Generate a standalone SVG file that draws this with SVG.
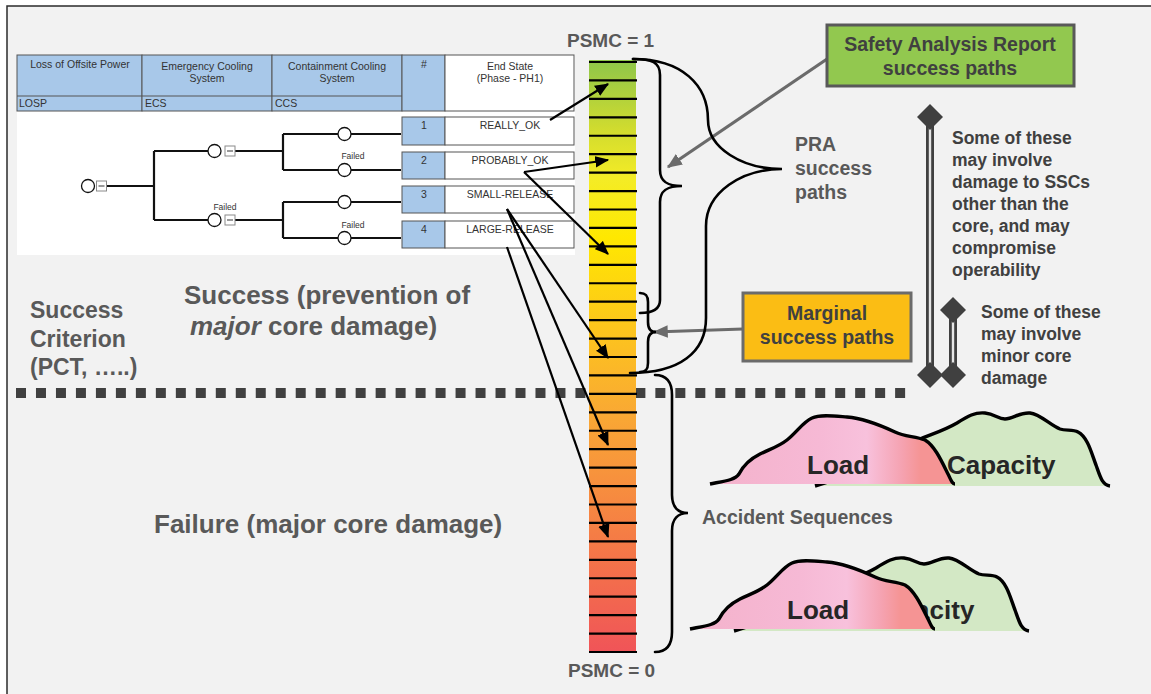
<svg xmlns="http://www.w3.org/2000/svg" width="1151" height="694" viewBox="0 0 1151 694">
  <defs>
    <style>
      .t { font-family: "Liberation Sans", Arial, sans-serif; }
      .b { font-weight: bold; }
      .lbl { fill: #595959; font-weight: bold; }
      .boxt { fill: #404040; font-weight: bold; font-size: 19.5px; text-anchor: middle; }
      .tbl { fill: #333333; font-size: 10.5px; }
      .mid { text-anchor: middle; }
      .cellb { fill: #a8c8e9; stroke: #555555; stroke-width: 1; }
      .cellw { fill: #ffffff; stroke: #555555; stroke-width: 1; }
      .tree { fill: none; stroke: #111111; stroke-width: 2.2; }
      .node { fill: #ffffff; stroke: #111111; stroke-width: 1.3; }
      .mbox { fill: #ffffff; stroke: #8a8a8a; stroke-width: 1; }
      .brace { fill: none; stroke: #000000; stroke-width: 2.6; stroke-linecap: round; }
      .arr { fill: none; stroke: #000000; stroke-width: 2.2; marker-end: url(#ah); }
      .garr { fill: none; stroke: #6b6b6b; stroke-width: 3.2; marker-end: url(#gah); }
      .curve { stroke: #000000; stroke-width: 3.4; fill: none; stroke-linejoin: round; }
      .dia { fill: #404040; }
      .note { fill: #404040; font-weight: bold; font-size: 17.5px; }
    </style>
    <marker id="ah" viewBox="0 0 12 10" refX="11" refY="5" markerUnits="userSpaceOnUse" markerWidth="14" markerHeight="12" orient="auto">
      <path d="M0,0 L12,5 L0,10 z" fill="#000000"/>
    </marker>
    <marker id="gah" viewBox="0 0 12 10" refX="11" refY="5" markerUnits="userSpaceOnUse" markerWidth="15" markerHeight="13" orient="auto">
      <path d="M0,0 L12,5 L0,10 z" fill="#6b6b6b"/>
    </marker>
    <linearGradient id="psmc" x1="0" y1="0" x2="0" y2="1">
      <stop offset="0" stop-color="#8ec64a"/>
      <stop offset="0.12" stop-color="#d2dc2e"/>
      <stop offset="0.2" stop-color="#f4ec26"/>
      <stop offset="0.3" stop-color="#ffe800"/>
      <stop offset="0.45" stop-color="#fdc61c"/>
      <stop offset="0.6" stop-color="#f9a834"/>
      <stop offset="0.8" stop-color="#f57d45"/>
      <stop offset="1" stop-color="#f05458"/>
    </linearGradient>
    <linearGradient id="loadFill" gradientUnits="userSpaceOnUse" x1="710" y1="0" x2="955" y2="0">
      <stop offset="0" stop-color="#f4b2cb"/>
      <stop offset="0.45" stop-color="#f6b9d5"/>
      <stop offset="0.64" stop-color="#f8c1dc"/>
      <stop offset="0.78" stop-color="#f5a3b2"/>
      <stop offset="0.86" stop-color="#f59494"/>
      <stop offset="1" stop-color="#f59494"/>
    </linearGradient>
    <!-- capacity curve -->
    <g id="capShape">
      <path d="M815,486 C850,476 890,456 920,439 C935,433 945,430 957,423 C968,416 975,412 985,413 C995,414 998,419 1005,419 C1013,419 1020,412 1030,413 C1040,414 1050,425 1060,429 C1066,431 1073,429 1078,432 C1088,437 1092,455 1096,465 C1100,476 1102,485 1110,486 Z" fill="#d3e8c5"/>
      <path class="curve" d="M815,486 C850,476 890,456 920,439 C935,433 945,430 957,423 C968,416 975,412 985,413 C995,414 998,419 1005,419 C1013,419 1020,412 1030,413 C1040,414 1050,425 1060,429 C1066,431 1073,429 1078,432 C1088,437 1092,455 1096,465 C1100,476 1102,485 1110,486"/>
    </g>
    <!-- load curve -->
    <g id="loadShape">
      <path d="M710,484 C725,481 735,480 739,474 C743,466 748,460 760,454 C770,449 778,447 787,440 C797,432 803,422 812,418 C820,414 835,416 847,417 C860,418 880,425 895,432 C905,437 915,436 925,440 C935,446 942,462 948,474 C951,480 952,484 955,484 Z" fill="url(#loadFill)"/>
      <path class="curve" d="M710,484 C725,481 735,480 739,474 C743,466 748,460 760,454 C770,449 778,447 787,440 C797,432 803,422 812,418 C820,414 835,416 847,417 C860,418 880,425 895,432 C905,437 915,436 925,440 C935,446 942,462 948,474 C951,480 952,484 955,484"/>
    </g>
  </defs>

  <!-- page -->
  <rect x="0" y="0" width="1151" height="694" fill="#ffffff"/>
  <rect x="7" y="6" width="1144" height="688" fill="#f2f2f2"/>
  <path d="M7,694 V6 H1151" fill="none" stroke="#2b2b2b" stroke-width="1.5"/>

  <!-- event tree -->
  <g id="event-tree" class="t">
    <rect x="17" y="55" width="558" height="200" fill="#ffffff"/>
    <g id="tree-header">
      <rect class="cellb" x="17" y="55" width="125" height="56"/>
      <rect class="cellb" x="142" y="55" width="130" height="56"/>
      <rect class="cellb" x="272" y="55" width="130" height="56"/>
      <path d="M17,96 H402" stroke="#555555" stroke-width="1"/>
      <rect class="cellb" x="402" y="55" width="43" height="56"/>
      <rect class="cellw" x="445" y="55" width="129" height="56"/>
      <text class="tbl mid" x="80" y="68">Loss of Offsite Power</text>
      <text class="tbl mid" x="207" y="70">Emergency Cooling</text>
      <text class="tbl mid" x="207" y="82">System</text>
      <text class="tbl mid" x="337" y="70">Containment Cooling</text>
      <text class="tbl mid" x="337" y="82">System</text>
      <text class="tbl mid" x="424" y="68">#</text>
      <text class="tbl mid" x="510" y="70">End State</text>
      <text class="tbl mid" x="510" y="82">(Phase - PH1)</text>
      <text class="tbl" x="19" y="107">LOSP</text>
      <text class="tbl" x="145" y="107">ECS</text>
      <text class="tbl" x="275" y="107">CCS</text>
    </g>
    <g id="tree-branches">
      <path class="tree" d="M107,186 H154 M154,151 V220 M154,151 H208 M154,220 H208 M235,151 H283 M235,220 H283 M283,134 V170 M283,202 V238 M283,134 H338 M283,170 H338 M283,202 H338 M283,238 H338 M351,134 H401 M351,170 H401 M351,202 H401 M351,238 H401"/>
      <circle class="node" cx="88" cy="186" r="6.5"/>
      <rect class="mbox" x="96.5" y="181" width="10" height="10"/>
      <path d="M98.5,186 H104.5" stroke="#555555" stroke-width="1.2"/>
      <circle class="node" cx="214.5" cy="151" r="6.5"/>
      <rect class="mbox" x="225" y="146" width="10" height="10"/>
      <path d="M227,151 H233" stroke="#555555" stroke-width="1.2"/>
      <circle class="node" cx="214.5" cy="220" r="6.5"/>
      <rect class="mbox" x="225" y="215" width="10" height="10"/>
      <path d="M227,220 H233" stroke="#555555" stroke-width="1.2"/>
      <circle class="node" cx="344.5" cy="134" r="6.5"/>
      <circle class="node" cx="344.5" cy="170" r="6.5"/>
      <circle class="node" cx="344.5" cy="202" r="6.5"/>
      <circle class="node" cx="344.5" cy="238" r="6.5"/>
      <text class="t mid" x="353" y="159" font-size="8.5" fill="#333333">Failed</text>
      <text class="t mid" x="225" y="210" font-size="8.5" fill="#333333">Failed</text>
      <text class="t mid" x="353" y="228" font-size="8.5" fill="#333333">Failed</text>
    </g>
    <g id="seq-1">
      <rect class="cellb" x="402" y="117" width="43" height="28"/>
      <rect class="cellw" x="445" y="117" width="129" height="28"/>
      <text class="tbl mid" x="424" y="129">1</text>
      <text class="tbl mid" x="510" y="129">REALLY_OK</text>
    </g>
    <g id="seq-2">
      <rect class="cellb" x="402" y="152" width="43" height="27"/>
      <rect class="cellw" x="445" y="152" width="129" height="27"/>
      <text class="tbl mid" x="424" y="164">2</text>
      <text class="tbl mid" x="510" y="164">PROBABLY_OK</text>
    </g>
    <g id="seq-3">
      <rect class="cellb" x="402" y="186" width="43" height="27"/>
      <rect class="cellw" x="445" y="186" width="129" height="27"/>
      <text class="tbl mid" x="424" y="198">3</text>
      <text class="tbl mid" x="510" y="198">SMALL-RELEASE</text>
    </g>
    <g id="seq-4">
      <rect class="cellb" x="402" y="221" width="43" height="27"/>
      <rect class="cellw" x="445" y="221" width="129" height="27"/>
      <text class="tbl mid" x="424" y="233">4</text>
      <text class="tbl mid" x="510" y="233">LARGE-RELEASE</text>
    </g>
  </g>

  <!-- success / failure divide -->
  <path id="divide" d="M16,393 H906" stroke="#404040" stroke-width="10" stroke-dasharray="10 9.98"/>

  <!-- PSMC scale -->
  <g id="psmc-bar">
    <rect x="589" y="60" width="47" height="592" fill="url(#psmc)"/>
    <path d="M589,62h48 M589,80.44h48 M589,98.88h48 M589,117.31h48 M589,135.75h48 M589,154.19h48 M589,172.63h48 M589,191.06h48 M589,209.5h48 M589,227.94h48 M589,246.38h48 M589,264.81h48 M589,283.25h48 M589,301.69h48 M589,320.13h48 M589,338.56h48 M589,357h48 M589,375.44h48 M589,393.88h48 M589,412.31h48 M589,430.75h48 M589,449.19h48 M589,467.63h48 M589,486.06h48 M589,504.5h48 M589,522.94h48 M589,541.38h48 M589,559.81h48 M589,578.25h48 M589,596.69h48 M589,615.13h48 M589,633.56h48 M589,652h48" stroke="#000000" stroke-width="2.2"/>
    <text class="t lbl" x="567" y="47" font-size="19">PSMC = 1</text>
    <text class="t lbl" x="568" y="677" font-size="19">PSMC = 0</text>
  </g>

  <!-- connectors -->
  <g id="connectors">
    <path class="arr" d="M550,120 L608,84"/>
    <path class="arr" d="M524,172 L608,160"/>
    <path class="arr" d="M524,172 L608,254"/>
    <path class="arr" d="M507,209 L608,358"/>
    <path class="arr" d="M507,209 L608,445"/>
    <path class="arr" d="M507,247 L608,537"/>
    <path class="garr" d="M830,57 L668,167"/>
    <path class="garr" d="M743,329 L654,332"/>
    <path class="brace" d="M633,59 C652,59 660,62 660,75 L660,170 C660,182 668,186 682,186 C668,186 660,190 660,202 L660,300 C660,310 652,313 640,313"/>
    <path class="brace" d="M633,59 C682,59 708,85 708,120 C708,148 742,169 782,169 C742,169 706,192 706,226 L706,318 C706,352 680,373 630,373"/>
    <path class="brace" d="M640,293 C646,293 648,296 648,302 L648,322 C648,329 651,332 656,332 C651,332 648,335 648,342 L648,363 C648,369 646,372 640,372"/>
    <path class="brace" d="M655,375 C667,375 672,382 672,395 L672,495 C672,507 678,513 688,513 C678,513 672,519 672,531 L672,632 C672,645 667,652 655,652"/>
  </g>

  <!-- left labels -->
  <g id="labels" class="t">
    <text class="lbl" font-size="23"><tspan x="30" y="318">Success</tspan><tspan x="30" y="347">Criterion</tspan><tspan x="30" y="375">(PCT, …..)</tspan></text>
    <text class="lbl" font-size="26"><tspan x="184" y="304">Success (prevention of</tspan><tspan x="190" y="335"><tspan font-style="italic">major</tspan> core damage)</tspan></text>
    <text class="lbl" font-size="26" x="154" y="533">Failure (major core damage)</text>
    <text class="lbl" font-size="19.5"><tspan x="795" y="151">PRA</tspan><tspan x="795" y="175">success</tspan><tspan x="795" y="199">paths</tspan></text>
    <text class="lbl" font-size="19.5" x="702" y="524">Accident Sequences</text>
  </g>

  <!-- callout boxes -->
  <g id="sar-box" class="t">
    <rect x="827" y="25" width="247" height="61" fill="#92c84f" stroke="#595959" stroke-width="3"/>
    <text class="boxt" x="950" y="51">Safety Analysis Report</text>
    <text class="boxt" x="950" y="75">success paths</text>
  </g>
  <g id="marginal-box" class="t">
    <rect x="743" y="293" width="168" height="68" fill="#fbbd14" stroke="#6b6b6b" stroke-width="3"/>
    <text class="boxt" x="827" y="320">Marginal</text>
    <text class="boxt" x="827" y="344">success paths</text>
  </g>

  <!-- damage range indicators -->
  <g id="range-ssc">
    <path d="M930,117 V375" stroke="#404040" stroke-width="8"/>
    <path d="M930,125 V367" stroke="#e6e6e6" stroke-width="2.4"/>
    <path class="dia" d="M930,104 L943,117 L930,130 L917,117 Z"/>
    <path class="dia" d="M930,362 L943,375 L930,388 L917,375 Z"/>
    <text class="t note"><tspan x="952" y="144">Some of these</tspan><tspan x="952" y="166">may involve</tspan><tspan x="952" y="188">damage to SSCs</tspan><tspan x="952" y="210">other than the</tspan><tspan x="952" y="232">core, and may</tspan><tspan x="952" y="254">compromise</tspan><tspan x="952" y="276">operability</tspan></text>
  </g>
  <g id="range-minor">
    <path d="M953,310 V375" stroke="#404040" stroke-width="8"/>
    <path d="M953,318 V367" stroke="#e6e6e6" stroke-width="2.4"/>
    <path class="dia" d="M953,297 L966,310 L953,323 L940,310 Z"/>
    <path class="dia" d="M953,362 L966,375 L953,388 L940,375 Z"/>
    <text class="t note"><tspan x="981" y="318">Some of these</tspan><tspan x="981" y="340">may involve</tspan><tspan x="981" y="362">minor core</tspan><tspan x="981" y="384">damage</tspan></text>
  </g>

  <!-- load vs capacity, upper -->
  <g id="lc-upper" class="t b">
    <use href="#capShape"/>
    <text x="947" y="474" font-size="26" fill="#262626">Capacity</text>
    <use href="#loadShape"/>
    <text x="807" y="474" font-size="26" fill="#262626">Load</text>
  </g>
  <!-- load vs capacity, lower -->
  <g id="lc-lower" class="t b">
    <g transform="translate(-81,145)">
      <use href="#capShape"/>
      <text x="947" y="474" font-size="26" fill="#262626">Capacity</text>
    </g>
    <g transform="translate(-20,145)">
      <use href="#loadShape"/>
      <text x="807" y="474" font-size="26" fill="#262626">Load</text>
    </g>
  </g>
</svg>
